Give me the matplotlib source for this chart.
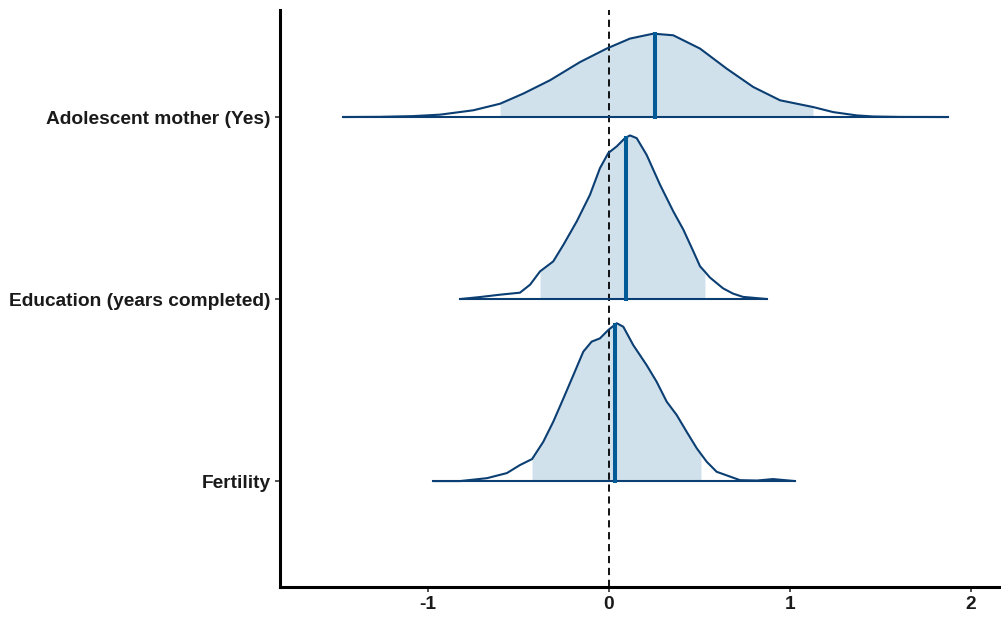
import matplotlib as mpl
mpl.use('Agg')
import matplotlib.pyplot as plt
import numpy as np

# parameter names (bottom -> top)
labels = ['Fertility', 'Education (years completed)', 'Adolescent mother (Yes)']

# density curves (x = effect, h = scaled height)
adol_x = [-1.470, -1.265, -1.083, -0.934, -0.750, -0.602, -0.473, -0.326, -0.160, -0.013,
          0.116, 0.245, 0.355, 0.503, 0.650, 0.797, 0.945, 1.127, 1.239, 1.368,
          1.459, 1.608, 1.873]
adol_h = [0.0, 0.001, 0.005, 0.013, 0.037, 0.073, 0.129, 0.202, 0.302, 0.376,
          0.431, 0.458, 0.449, 0.376, 0.266, 0.165, 0.092, 0.055, 0.027, 0.009,
          0.003, 0.0005, 0.0]

edu_x = [-0.823, -0.713, -0.602, -0.492, -0.436, -0.381, -0.308, -0.252, -0.178, -0.105,
         -0.050, -0.004, 0.043, 0.088, 0.116, 0.153, 0.208, 0.282, 0.355, 0.411,
         0.466, 0.503, 0.530, 0.558, 0.630, 0.685, 0.740, 0.873]
edu_h = [0.0, 0.011, 0.024, 0.035, 0.079, 0.152, 0.207, 0.298, 0.427, 0.573,
         0.719, 0.802, 0.839, 0.884, 0.899, 0.884, 0.792, 0.628, 0.482, 0.381,
         0.262, 0.180, 0.150, 0.118, 0.059, 0.030, 0.012, 0.0]

fert_x = [-0.972, -0.823, -0.674, -0.564, -0.492, -0.425, -0.363, -0.308, -0.252, -0.197,
          -0.142, -0.096, -0.050, -0.004, 0.043, 0.079, 0.134, 0.208, 0.263, 0.319,
          0.374, 0.429, 0.485, 0.508, 0.540, 0.595, 0.724, 0.818, 0.906, 1.028]
fert_h = [0.0, 0.0, 0.016, 0.044, 0.088, 0.121, 0.216, 0.326, 0.454, 0.582,
          0.711, 0.766, 0.784, 0.830, 0.867, 0.848, 0.747, 0.637, 0.546, 0.436,
          0.363, 0.271, 0.180, 0.149, 0.106, 0.051, 0.005, 0.003, 0.011, 0.0]

# medians and shaded intervals
medians = [0.033, 0.094, 0.254]
int_lo = [-0.425, -0.381, -0.602]
int_hi = [0.508, 0.530, 1.127]

curves = [(fert_x, fert_h), (edu_x, edu_h), (adol_x, adol_h)]

FILL = '#d1e1ec'
LINE = '#0b3f73'
MED = '#005b96'

plt.rcParams['font.family'] = ['Liberation Sans', 'DejaVu Sans']

fig = plt.figure(figsize=(10.01, 6.17), dpi=100)
ax = fig.add_axes([0.2797, 0.0486, 0.7203, 0.9352])

for i, (cx, ch) in enumerate(curves):
    y0 = i + 1
    cx = np.array(cx)
    ch = np.array(ch)
    inside = (cx >= int_lo[i] - 1e-9) & (cx <= int_hi[i] + 1e-9)
    ax.fill_between(cx[inside], y0, y0 + ch[inside], color=FILL, lw=0, zorder=1)
    ax.plot(cx, y0 + ch, color=LINE, lw=1.5, zorder=4,
            solid_joinstyle='round', solid_capstyle='round')
    ax.plot([cx[0], cx[-1]], [y0, y0], color=LINE, lw=1.5, zorder=4)
    hm = np.interp(medians[i], cx, ch)
    ax.plot([medians[i], medians[i]], [y0, y0 + hm], color=MED, lw=2.9, zorder=5)

ax.axvline(0, color='black', lw=1.3, linestyle=(0, (4, 2.6)), zorder=3)

ax.set_xlim(-1.818, 2.166)
ax.set_ylim(0.418, 3.588)
ax.set_xticks([-1, 0, 1, 2])
ax.set_xticklabels(['-1', '0', '1', '2'])
ax.set_yticks([1, 2, 3])
ax.set_yticklabels(labels)

for lab in ax.get_xticklabels() + ax.get_yticklabels():
    lab.set_fontweight('bold')
    lab.set_fontsize(13.8)
    lab.set_color('#1a1a1a')

ax.tick_params(length=3.5, width=1.2, color='#333333', pad=3)
ax.spines['top'].set_visible(False)
ax.spines['right'].set_visible(False)
ax.spines['left'].set_linewidth(2.2)
ax.spines['bottom'].set_linewidth(2.2)

fig.savefig('out.png', dpi=100)
